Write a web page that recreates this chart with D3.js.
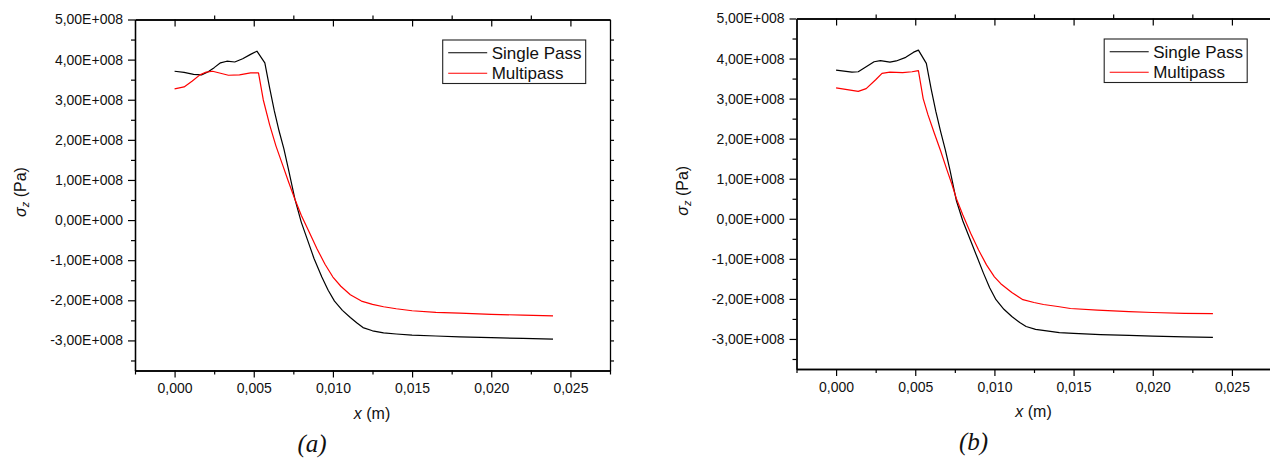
<!DOCTYPE html>
<html>
<head>
<meta charset="utf-8">
<script src="https://cdn.jsdelivr.net/npm/d3@7"></script>
<style>
  body { margin: 0; background: #fff; }
  svg { display: block; }
  text { font-family: "Liberation Sans", Arial, sans-serif; fill: #111; }
</style>
</head>
<body>
<svg id="chart" width="1270" height="460"></svg>
<script>
// ---- axis ticks ----
const xTickValues = [0, 0.005, 0.010, 0.015, 0.020, 0.025];
const xTickLabels = ["0,000", "0,005", "0,010", "0,015", "0,020", "0,025"];
const xMinorValues = [-0.0025, 0.0025, 0.0075, 0.0125, 0.0175, 0.0225, 0.0275];
const yTickValues = [-3e8, -2e8, -1e8, 0, 1e8, 2e8, 3e8, 4e8, 5e8];
const yTickLabels = ["-3,00E+008", "-2,00E+008", "-1,00E+008", "0,00E+000",
                     "1,00E+008", "2,00E+008", "3,00E+008", "4,00E+008", "5,00E+008"];
const yMinorValues = [-3.5e8, -2.5e8, -1.5e8, -0.5e8, 0.5e8, 1.5e8, 2.5e8, 3.5e8, 4.5e8];
const seriesNames = ["Single Pass", "Multipass"];
const panelLabels = ["(a)", "(b)"];

// ---- panel (a): longitudinal stress along x ----
const singleA_x = [0, 0.0006, 0.0012, 0.0017, 0.0021, 0.0025, 0.0029, 0.0033, 0.0038, 0.0043, 0.0048, 0.0052,
  0.0057, 0.0060, 0.0063, 0.0066, 0.0069, 0.0072, 0.0076, 0.0080, 0.0084, 0.0088, 0.0093, 0.0097, 0.0101, 0.0106,
  0.0111, 0.0115, 0.0119, 0.0125, 0.0132, 0.0140, 0.0150, 0.0165, 0.0180, 0.0200, 0.0220, 0.0239];
const singleA_s = [3.71e8, 3.68e8, 3.63e8, 3.62e8, 3.69e8, 3.80e8, 3.92e8, 3.96e8, 3.94e8, 4.02e8, 4.13e8, 4.21e8,
  3.92e8, 3.30e8, 2.72e8, 2.22e8, 1.78e8, 1.25e8, 0.52e8, -0.05e8, -0.50e8, -0.95e8, -1.42e8, -1.75e8, -2.02e8, -2.25e8,
  -2.43e8, -2.56e8, -2.68e8, -2.76e8, -2.81e8, -2.84e8, -2.87e8, -2.89e8, -2.91e8, -2.93e8, -2.95e8, -2.97e8];

const multiA_x = [0, 0.0006, 0.0011, 0.0016, 0.0020, 0.0024, 0.0029, 0.0034, 0.0041, 0.0048, 0.0053,
  0.0056, 0.0060, 0.0064, 0.0068, 0.0072, 0.0076, 0.0080, 0.0085, 0.0090, 0.0095, 0.0100, 0.0105, 0.0111,
  0.0118, 0.0125, 0.0132, 0.0140, 0.0150, 0.0165, 0.0180, 0.0200, 0.0220, 0.0239];
const multiA_s = [3.27e8, 3.32e8, 3.46e8, 3.62e8, 3.69e8, 3.71e8, 3.66e8, 3.61e8, 3.62e8, 3.67e8, 3.67e8,
  3.00e8, 2.38e8, 1.85e8, 1.40e8, 0.95e8, 0.52e8, 0.12e8, -0.30e8, -0.72e8, -1.10e8, -1.42e8, -1.65e8, -1.86e8,
  -2.02e8, -2.10e8, -2.16e8, -2.21e8, -2.26e8, -2.30e8, -2.32e8, -2.35e8, -2.37e8, -2.39e8];

// ---- panel (b) ----
const singleB_x = [0, 0.0010, 0.0014, 0.0018, 0.0024, 0.0028, 0.0034, 0.0038, 0.0044, 0.0049, 0.0052,
  0.0057, 0.0060, 0.0063, 0.0066, 0.0069, 0.0072, 0.0076, 0.0080, 0.0085, 0.0089, 0.0093, 0.0097, 0.0101, 0.0106,
  0.0111, 0.0116, 0.0120, 0.0126, 0.0133, 0.0141, 0.0150, 0.0167, 0.0185, 0.0200, 0.0220, 0.0238];
const singleB_s = [3.71e8, 3.66e8, 3.67e8, 3.77e8, 3.92e8, 3.95e8, 3.91e8, 3.94e8, 4.03e8, 4.16e8, 4.21e8,
  3.88e8, 3.25e8, 2.68e8, 2.18e8, 1.72e8, 1.20e8, 0.45e8, -0.05e8, -0.55e8, -0.95e8, -1.35e8, -1.72e8, -2.02e8, -2.26e8,
  -2.44e8, -2.59e8, -2.69e8, -2.76e8, -2.80e8, -2.84e8, -2.86e8, -2.89e8, -2.91e8, -2.93e8, -2.95e8, -2.96e8];

const multiB_x = [0, 0.0009, 0.0014, 0.0019, 0.0025, 0.0029, 0.0034, 0.0042, 0.0048, 0.0052,
  0.0055, 0.0058, 0.0062, 0.0066, 0.0070, 0.0073, 0.0076, 0.0080, 0.0085, 0.0090, 0.0095, 0.0100, 0.0104,
  0.0111, 0.0118, 0.0125, 0.0131, 0.0140, 0.0148, 0.0165, 0.0185, 0.0200, 0.0220, 0.0238];
const multiB_s = [3.27e8, 3.21e8, 3.18e8, 3.25e8, 3.47e8, 3.63e8, 3.66e8, 3.65e8, 3.67e8, 3.70e8,
  3.00e8, 2.60e8, 2.14e8, 1.70e8, 1.22e8, 0.88e8, 0.50e8, 0.10e8, -0.36e8, -0.78e8, -1.15e8, -1.45e8, -1.62e8,
  -1.84e8, -2.02e8, -2.09e8, -2.14e8, -2.19e8, -2.24e8, -2.28e8, -2.32e8, -2.34e8, -2.36e8, -2.37e8];

const svg = d3.select("#chart");

const panels = [
  { left: 135, right: 610, top: 19.5, bottom: 370.5,
    single: [singleA_x, singleA_s], multi: [multiA_x, multiA_s], label: panelLabels[0] },
  { left: 796.5, right: 1271.5, top: 18.5, bottom: 369,
    single: [singleB_x, singleB_s], multi: [multiB_x, multiB_s], label: panelLabels[1] }
];

const colors = ["#000000", "#ff0000"];

panels.forEach(p => {
  const g = svg.append("g");
  const x = d3.scaleLinear().domain([-0.0025, 0.0275]).range([p.left, p.right]);
  const y = d3.scaleLinear().domain([-3.75e8, 5e8]).range([p.bottom, p.top]);

  const styleAxis = sel => {
    sel.selectAll("path.domain").attr("stroke", "#000").attr("stroke-width", 1.3);
    sel.selectAll(".tick line").attr("stroke", "#000").attr("stroke-width", 1.2);
    sel.selectAll("text").style("font-size", "14px").attr("fill", "#111");
  };

  // left axis, major + minor ticks outward
  g.append("g").attr("transform", `translate(${p.left},0)`)
    .call(d3.axisLeft(y).tickValues(yMinorValues).tickSize(4).tickFormat("").tickSizeOuter(0))
    .call(styleAxis);
  g.append("g").attr("transform", `translate(${p.left},0)`)
    .call(d3.axisLeft(y).tickValues(yTickValues).tickSize(7).tickPadding(5)
      .tickFormat((d, i) => yTickLabels[i]).tickSizeOuter(0))
    .call(styleAxis);

  // bottom axis
  g.append("g").attr("transform", `translate(0,${p.bottom})`)
    .call(d3.axisBottom(x).tickValues(xMinorValues).tickSize(4).tickFormat("").tickSizeOuter(0))
    .call(styleAxis);
  g.append("g").attr("transform", `translate(0,${p.bottom})`)
    .call(d3.axisBottom(x).tickValues(xTickValues).tickSize(7).tickPadding(6)
      .tickFormat((d, i) => xTickLabels[i]).tickSizeOuter(0))
    .call(styleAxis);

  // top axis: majors point into the plot, minors outward
  g.append("g").attr("transform", `translate(0,${p.top})`)
    .call(d3.axisTop(x).tickValues(xTickValues).tickSize(-7).tickFormat("").tickSizeOuter(0))
    .call(styleAxis);
  g.append("g").attr("transform", `translate(0,${p.top})`)
    .call(d3.axisTop(x).tickValues(xMinorValues.slice(1, -1)).tickSize(4).tickFormat("").tickSizeOuter(0))
    .call(styleAxis);

  // right axis: short outward ticks
  g.append("g").attr("transform", `translate(${p.right},0)`)
    .call(d3.axisRight(y).tickValues(yMinorValues.concat(yTickValues.slice(0, -1))).tickSize(4)
      .tickFormat("").tickSizeOuter(0))
    .call(styleAxis);

  // curves
  const line = d3.line().x(d => x(d[0])).y(d => y(d[1]));
  [p.single, p.multi].forEach((s, k) => {
    const pts = s[0].map((v, i) => [v, s[1][i]]);
    g.append("path").datum(pts)
      .attr("d", line)
      .attr("fill", "none")
      .attr("stroke", colors[k])
      .attr("stroke-width", 1.2)
      .attr("stroke-linejoin", "round");
  });

  // legend
  const lx = p.left + 307.7, ly = p.top + 20.5;
  g.append("rect").attr("x", lx).attr("y", ly).attr("width", 143).attr("height", 43.5)
    .attr("fill", "#fff").attr("stroke", "#222").attr("stroke-width", 1.1);
  seriesNames.forEach((name, k) => {
    const yy = ly + 12.7 + k * 20.6;
    g.append("line").attr("x1", lx + 5.5).attr("x2", lx + 44.5).attr("y1", yy).attr("y2", yy)
      .attr("stroke", colors[k]).attr("stroke-width", 1.1);
    g.append("text").attr("x", lx + 49).attr("y", yy + 6)
      .style("font-size", "17px").text(name);
  });

  // axis titles
  const yl = g.append("text")
    .attr("transform", `translate(${p.left - 109},${(p.top + p.bottom) / 2 - 3}) rotate(-90)`)
    .attr("text-anchor", "middle").style("font-size", "16px");
  yl.append("tspan").style("font-style", "italic").text("σ");
  yl.append("tspan").style("font-style", "italic").style("font-size", "11px").attr("dy", 3).text("z");
  yl.append("tspan").attr("dy", -3).text(" (Pa)");

  const xl = g.append("text")
    .attr("x", (p.left + p.right) / 2 - 0.5).attr("y", p.bottom + 48)
    .attr("text-anchor", "middle").style("font-size", "16px");
  xl.append("tspan").style("font-style", "italic").text("x");
  xl.append("tspan").text(" (m)");

  // panel caption
  g.append("text").attr("x", p.left + 177).attr("y", p.bottom + 81)
    .attr("text-anchor", "middle")
    .style("font-family", "'Liberation Serif', 'Times New Roman', serif")
    .style("font-style", "italic").style("font-size", "25px").text(p.label);
});
</script>
</body>
</html>
